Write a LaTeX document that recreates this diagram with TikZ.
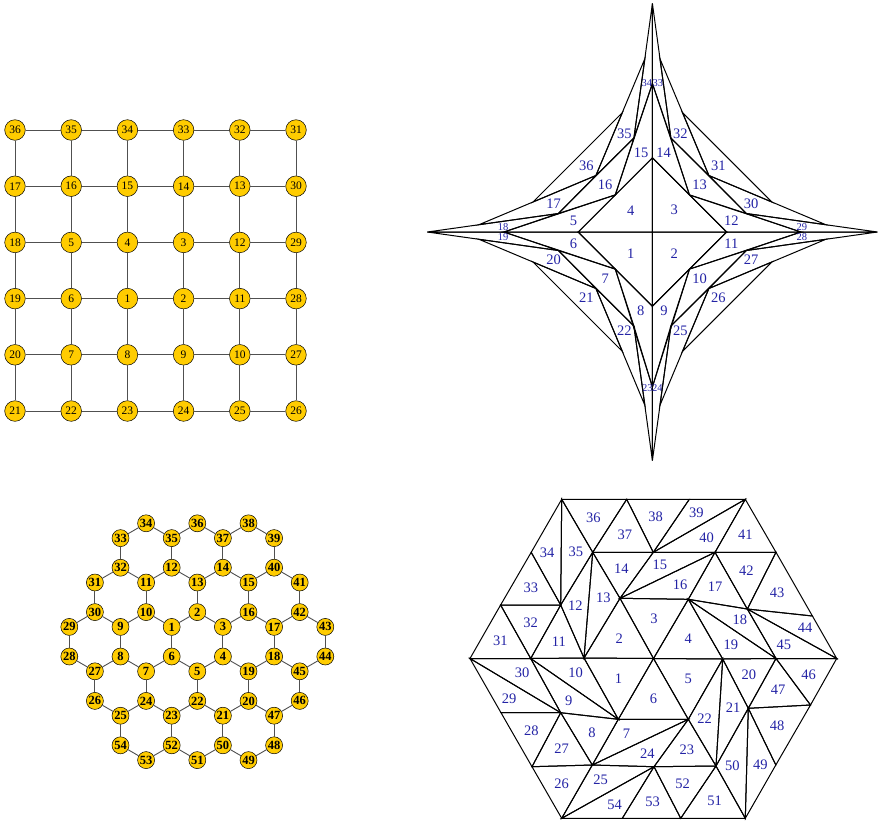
\documentclass[tikz,border=0pt]{standalone}
\usepackage{fontspec}
\setmainfont{Liberation Serif}
\usetikzlibrary{calc}
\definecolor{nodegold}{RGB}{255,204,0}
\definecolor{trilabel}{RGB}{35,35,165}
\definecolor{edgegray}{RGB}{80,80,80}
\tikzset{
  gnode/.style={circle, draw=black, line width=0.5pt, fill=nodegold, minimum size=20.6pt, inner sep=0pt, font=\fontsize{11.5}{11.5}\selectfont},
  hnode/.style={circle, draw=black, line width=0.5pt, fill=nodegold, minimum size=17pt, inner sep=0pt, font=\fontsize{12.5}{12.5}\selectfont\bfseries},
  gedge/.style={edgegray, line width=0.9pt},
  meshline/.style={black, line width=1pt, line join=miter},
  tlab/.style={trilabel, inner sep=0pt, font=\fontsize{14.5}{14.5}\selectfont},
  tsmall/.style={font=\fontsize{10.5}{10.5}\selectfont}
}
% triangle with its label at the incentre
\newcommand{\meshtri}[5][]{%
  \draw[meshline] (#2) -- (#3) -- (#4) -- cycle;
  \path let \p1=(#2), \p2=(#3), \p3=(#4),
    \n1={veclen(\x2-\x3,\y2-\y3)}, \n2={veclen(\x1-\x3,\y1-\y3)},
    \n3={veclen(\x1-\x2,\y1-\y2)}, \n4={\n1+\n2+\n3}
    in node[tlab,#1] at ({(\n1/\n4)*\x1+(\n2/\n4)*\x2+(\n3/\n4)*\x3},
                         {(\n1/\n4)*\y1+(\n2/\n4)*\y2+(\n3/\n4)*\y3}) {#5};
}
\begin{document}
\begin{tikzpicture}[x=1pt, y=-1pt]
    \useasboundingbox (0,0) rectangle (878,823);

    % Lưới 6x6
    \foreach \row [count=\r from 0] in {{36,35,34,33,32,31},{17,16,15,14,13,30},{18,5,4,3,12,29},
        {19,6,1,2,11,28},{20,7,8,9,10,27},{21,22,23,24,25,26}}
        \foreach \lab [count=\c from 0] in \row
            \node[gnode] (g-\r-\c) at ({15+56.2*\c}, {130+56.2*\r}) {\lab};
    \foreach \c [evaluate=\c as \cn using int(\c+1)] in {0,...,4}
        \foreach \r in {0,...,5}
            \draw[gedge] (g-\r-\c) -- (g-\r-\cn);
    \foreach \r [evaluate=\r as \rn using int(\r+1)] in {0,...,4}
        \foreach \c in {0,...,5}
            \draw[gedge] (g-\r-\c) -- (g-\rn-\c);

    % Đồ thị lục giác
    \foreach \n/\c/\lv in {34/3/0, 36/5/0, 38/7/0, 33/2/1, 35/4/1, 37/6/1, 39/8/1,
        32/2/2, 12/4/2, 14/6/2, 40/8/2, 31/1/3, 11/3/3, 13/5/3, 15/7/3, 41/9/3,
        30/1/4, 10/3/4, 2/5/4, 16/7/4, 42/9/4, 29/0/5, 9/2/5, 1/4/5, 3/6/5, 17/8/5, 43/10/5,
        28/0/6, 8/2/6, 6/4/6, 4/6/6, 18/8/6, 44/10/6, 27/1/7, 7/3/7, 5/5/7, 19/7/7, 45/9/7,
        26/1/8, 24/3/8, 22/5/8, 20/7/8, 46/9/8, 25/2/9, 23/4/9, 21/6/9, 47/8/9,
        54/2/10, 52/4/10, 50/6/10, 48/8/10, 53/3/11, 51/5/11, 49/7/11}
        \node[hnode] (h\n) at ({69.3+25.6*\c}, {523.3+44.4*floor(\lv/2)+14.8*mod(\lv,2)}) {\n};
    \foreach \a/\b in {34/33, 34/35, 35/36, 36/37, 37/38, 38/39, 33/32, 35/12, 37/14, 39/40,
        32/31, 32/11, 12/11, 12/13, 14/13, 14/15, 40/15, 40/41, 31/30, 11/10, 13/2, 15/16, 41/42,
        30/29, 30/9, 10/9, 10/1, 2/1, 2/3, 16/3, 16/17, 42/17, 42/43,
        29/28, 9/8, 1/6, 3/4, 17/18, 43/44,
        28/27, 8/27, 8/7, 6/7, 6/5, 4/5, 4/19, 18/19, 18/45, 44/45,
        27/26, 7/24, 5/22, 19/20, 45/46, 26/25, 24/25, 24/23, 22/23, 22/21, 20/21, 20/47, 46/47,
        25/54, 23/52, 21/50, 47/48, 54/53, 52/53, 52/51, 50/51, 50/49, 48/49}
        \draw[gedge] (h\a) -- (h\b);

    % Hình sao: bốn góc phần tư đối xứng
    \foreach \q/\sx/\sy/\vv/\labA/\labB/\labC/\labD/\labE/\labF/\labG/\labH/\labI in {
        ul/-1/-1/148.5/4/5/15/16/17/18/34/35/36, ur/1/-1/148.5/3/12/14/13/30/29/33/32/31,
        ll/-1/1/155/1/6/8/7/20/19/23/22/21, lr/1/1/155/2/11/9/10/27/28/24/25/26}
    {
        \begin{scope}[shift={(652.4,232)}, xscale=\sx, yscale=\sy]
            \coordinate (\q-O) at (0,0);
            \coordinate (\q-Dh) at (74.2,0);
            \coordinate (\q-Dv) at (0,74.2);
            \coordinate (\q-M) at (37.1,37.1);
            \coordinate (\q-N) at (56.5,56.5);
            \coordinate (\q-Nh) at (94,18.5);
            \coordinate (\q-Nv) at (18.5,94);
            \coordinate (\q-R) at (148.5,0);
            \coordinate (\q-V) at (0,\vv);
            \coordinate (\q-L) at (225,0);
            \coordinate (\q-T) at (0,228.5);
            \coordinate (\q-Qa) at (173.4,7.3);
            \coordinate (\q-Pa) at (7.5,173.4);
            \coordinate (\q-Qb) at (119.4,30);
            \coordinate (\q-Pb) at (30,119.4);
        \end{scope}
        \meshtri{\q-O}{\q-Dh}{\q-Dv}{\labA}
        \meshtri{\q-R}{\q-M}{\q-Dh}{\labB}
        \meshtri{\q-V}{\q-M}{\q-Dv}{\labC}
        \meshtri{\q-M}{\q-Nh}{\q-Nv}{\labD}
        \meshtri{\q-Qa}{\q-Nh}{\q-N}{\labE}
        \meshtri[tsmall]{\q-L}{\q-R}{\q-Nh}{\labF}
        \meshtri[tsmall]{\q-T}{\q-V}{\q-Nv}{\labG}
        \meshtri{\q-Pa}{\q-Nv}{\q-N}{\labH}
        \meshtri{\q-N}{\q-Qb}{\q-Pb}{\labI}
    }

    % Lưới tam giác lục giác
    \foreach \n/\x/\y in {q00/561.7/499.3, q01/626.7/499.3, q02/689.3/499.3, q03/745.3/499.3,
        q10/531.2/552.3, q11/592.7/552.3, q12/653.3/552.3, q13/715/552.3, q14/776/552.3,
        q20/500.6/605, q21/560.7/605, q22/620/598.3, q23/688.3/599.3, q24/747.3/609, q25/812.4/616,
        q30/470/658.5, q31/530.7/658.5, q32/584/658, q33/653.5/658.5, q34/722.7/659, q35/776/658.5, q36/836.7/658.5,
        q40/501/712.7, q41/560.7/712.7, q42/618.3/719.3, q43/688.3/719.3, q44/748.3/708.3, q45/810.5/705,
        q50/532/766.7, q51/592.3/765, q52/654/766.7, q53/716/766, q54/775.8/765,
        q60/561.7/818.3, q61/622.3/818.3, q62/680.7/818.3, q63/745.3/818.3}
        \coordinate (\n) at (\x,\y);
    \foreach \a/\b/\c/\l in {q20/q30/q31/31, q20/q21/q31/32, q10/q20/q21/33, q00/q10/q21/34,
        q00/q21/q11/35, q00/q01/q11/36, q01/q11/q12/37, q01/q02/q12/38, q02/q03/q12/39,
        q12/q03/q13/40, q03/q13/q14/41, q13/q14/q24/42, q14/q24/q25/43, q24/q25/q36/44,
        q24/q36/q35/45, q23/q24/q35/18, q23/q35/q34/19, q23/q13/q24/17, q22/q13/q23/16,
        q12/q13/q22/15, q11/q12/q22/14, q11/q22/q32/13, q21/q11/q32/12, q21/q31/q32/11,
        q22/q32/q33/2, q22/q23/q33/3, q23/q33/q34/4,
        q30/q31/q41/30, q30/q41/q40/29, q31/q32/q42/10, q31/q42/q41/9, q32/q33/q42/1,
        q33/q42/q43/6, q33/q34/q43/5, q43/q34/q53/22, q34/q44/q53/21, q34/q35/q44/20,
        q35/q44/q45/47, q35/q36/q45/46, q44/q45/q54/48, q44/q54/q63/49, q44/q63/q53/50,
        q53/q62/q63/51, q52/q53/q62/52, q52/q61/q62/53, q60/q52/q61/54, q51/q52/q60/25,
        q50/q51/q60/26, q41/q50/q51/27, q40/q41/q50/28, q41/q42/q51/8, q42/q43/q51/7,
        q51/q43/q52/24, q43/q52/q53/23}
    {
        \meshtri{\a}{\b}{\c}{\l}
    }
\end{tikzpicture}
\end{document}
